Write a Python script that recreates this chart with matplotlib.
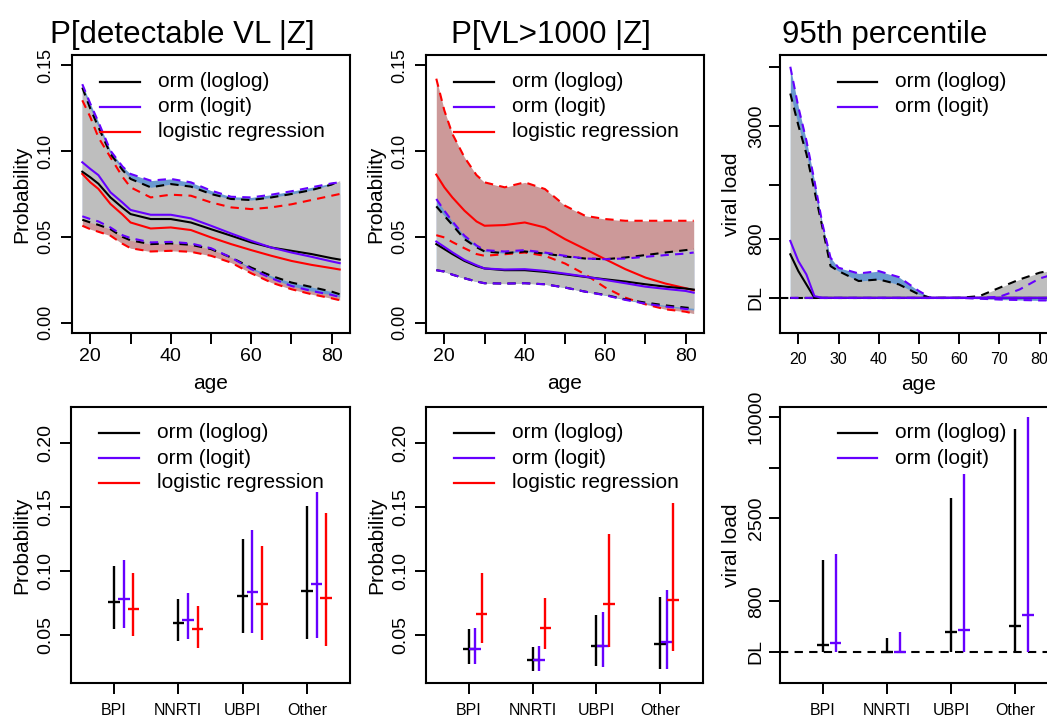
import matplotlib
matplotlib.use("Agg")
import matplotlib.pyplot as plt
from matplotlib import font_manager
from matplotlib.ticker import NullLocator

plt.rcParams['font.family'] = ['Liberation Sans', 'DejaVu Sans']
names = {f.name for f in font_manager.fontManager.ttflist}
NARROW = ['Liberation Sans Narrow', 'Liberation Sans'] if 'Liberation Sans Narrow' in names else ['Liberation Sans']

BLACK = 'black'
PURPLE = '#6600FF'
RED = '#FF0000'
GRAY = '#BEBEBE'
BAND_BLUE = '#6A9AD0'
BAND_RED = '#CC9999'

# ---------------- data ----------------
age = [18, 20, 22, 25, 28, 30, 35, 40, 45, 50, 55, 60, 65, 70, 75, 80, 82]

# P[detectable VL | Z]
det_ll = [.088, .0847, .081, .073, .067, .0633, .0604, .0604, .0584, .0545, .0507, .0468, .0438, .0419, .040, .0376, .0368]
det_ll_hi = [.137, .1247, .114, .0984, .089, .0838, .0789, .0808, .0793, .075, .0721, .0715, .073, .075, .0773, .0805, .0828]
det_ll_lo = [.060, .0584, .057, .0545, .050, .048, .0458, .0462, .0454, .0429, .038, .0321, .0273, .0234, .0208, .0181, .0166]
det_lg = [.0935, .0896, .086, .076, .070, .0657, .0629, .0629, .0608, .0565, .052, .0477, .0438, .0409, .0384, .0357, .0347]
det_lg_hi = [.139, .1276, .117, .1003, .091, .0867, .0828, .0838, .0818, .077, .0734, .073, .0746, .0766, .0789, .0812, .0818]
det_lg_lo = [.062, .0604, .059, .0555, .051, .0493, .0468, .0471, .0462, .0434, .038, .0312, .0259, .0214, .0185, .0162, .015]
det_lr = [.0867, .0818, .078, .0692, .063, .0584, .0549, .0555, .054, .0497, .0458, .0423, .039, .036, .0337, .0318, .031]
det_lr_hi = [.1296, .1198, .108, .0964, .085, .0789, .073, .0746, .074, .0701, .0672, .0662, .0672, .069, .0715, .074, .075]
det_lr_lo = [.0565, .0545, .053, .0507, .046, .0434, .0415, .0419, .0413, .039, .035, .0288, .0234, .0195, .0166, .0142, .0131]

# P[VL > 1000 | Z]
k_ll = [.0458, .0429, .040, .036, .033, .0316, .0306, .0306, .0296, .0282, .0267, .0253, .024, .0224, .021, .0199, .0193]
k_ll_hi = [.0678, .0623, .057, .0487, .044, .0415, .0405, .0415, .0403, .0386, .0374, .037, .038, .0394, .0409, .0423, .0429]
k_ll_lo = [.0306, .0298, .028, .0259, .024, .023, .0228, .023, .0224, .0205, .0181, .0162, .0136, .0117, .0101, .0088, .0084]
k_lg = [.0473, .0442, .041, .0366, .0335, .0316, .031, .0312, .0302, .0286, .0269, .0249, .023, .021, .0197, .0185, .0175]
k_lg_hi = [.0721, .0653, .059, .0507, .045, .0423, .0415, .0423, .0409, .039, .0374, .037, .0374, .0384, .0394, .0403, .0409]
k_lg_lo = [.0306, .0298, .028, .0259, .024, .023, .0228, .023, .0224, .0205, .0181, .016, .0133, .0111, .0094, .008, .0074]
k_lr = [.0863, .0789, .073, .0653, .059, .0565, .0569, .0584, .0555, .0487, .0429, .037, .0312, .0263, .0228, .0201, .0189]
k_lr_hi = [.1422, .1237, .110, .0964, .086, .0818, .0789, .0818, .0779, .0682, .0623, .0604, .0594, .0594, .0594, .0594, .0594]
k_lr_lo = [.051, .0497, .047, .0434, .040, .039, .0399, .0409, .039, .0345, .0282, .0205, .0146, .0107, .0078, .0064, .0053]

# 95th percentile of viral load
DL = 400
age_q = [18, 20, 22, 24, 26, 28, 30, 35, 40, 45, 50, 53, 55, 60, 65, 70, 75, 80, 82]
q_ll = [666, 547, 468, 400, 400, 400, 400, 400, 400, 400, 400, 400, 400, 400, 400, 400, 400, 400, 400]
q_ll_hi = [4375, 3014, 2161, 1403, 911, 580, 547, 487, 496, 468, 416, 400, 400, 400, 408, 450, 496, 537, 547]
q_ll_lo = [400, 400, 400, 400, 400, 400, 400, 400, 400, 400, 400, 400, 400, 400, 400, 400, 400, 400, 400]
q_lg = [779, 615, 526, 408, 400, 400, 400, 400, 400, 400, 400, 400, 400, 400, 400, 400, 400, 400, 400]
q_lg_hi = [5988, 3740, 2527, 1578, 948, 640, 569, 532, 547, 510, 433, 400, 400, 400, 400, 405, 441, 502, 516]
q_lg_lo = [400, 400, 400, 400, 400, 400, 400, 400, 400, 400, 400, 400, 400, 400, 396, 392, 390, 388, 388]

# by regimen
groups = ['BPI', 'NNRTI', 'UBPI', 'Other']
gpos = [1, 2, 3, 4]
gd_ll = [.0761, .0597, .0808, .0844]
gd_ll_lo = [.0547, .0453, .0518, .0466]
gd_ll_hi = [.1043, .0784, .1251, .151]
gd_lg = [.0784, .0617, .0834, .0897]
gd_lg_lo = [.0557, .0466, .0518, .0474]
gd_lg_hi = [.1087, .0826, .1322, .1617]
gd_lr = [.0703, .0544, .0745, .0792]
gd_lr_lo = [.0495, .040, .0461, .0414]
gd_lr_hi = [.0988, .073, .1199, .1457]

gk_ll = [.0388, .0302, .0417, .043]
gk_ll_lo = [.0273, .0221, .0257, .0231]
gk_ll_hi = [.0544, .0409, .0657, .0795]
gk_lg = [.0388, .0304, .0417, .0448]
gk_lg_lo = [.027, .0221, .0252, .0231]
gk_lg_hi = [.0557, .0417, .0683, .0852]
gk_lr = [.0662, .0557, .074, .0774]
gk_lr_lo = [.0435, .039, .0409, .0375]
gk_lr_hi = [.0983, .0787, .129, .153]

gq_ll = [442, 400, 524, 569]
gq_ll_lo = [400, 400, 400, 400]
gq_ll_hi = [1417, 485, 3283, 8487]
gq_lg = [452, 400, 543, 660]
gq_lg_lo = [400, 400, 400, 400]
gq_lg_hi = [1538, 526, 4581, 10000]

# ---------------- figure ----------------
W, H = 1047, 719
fig = plt.figure(figsize=(W / 100, H / 100), dpi=100)


def make_axes(left, top, w=278, h=278):
    ax = fig.add_axes([left / W, 1 - (top + h) / H, w / W, h / H])
    for s in ax.spines.values():
        s.set_linewidth(1.5)
    ax.tick_params(direction='out', length=8, width=1.4, color='black')
    return ax


def legend(ax, entries, x0, x1, xt, rows):
    for (lab, col), y in zip(entries, rows):
        ax.plot([x0, x1], [y, y], color=col, lw=1.6, transform=ax.transAxes, clip_on=False)
        ax.text(xt, y, lab, transform=ax.transAxes, fontsize=15, va='center', ha='left')


def rot_yticks(ax, pad):
    ax.tick_params(axis='y', labelrotation=90, pad=pad)
    for t in ax.get_yticklabels():
        t.set_va('center')


LEG3 = [('orm (loglog)', BLACK), ('orm (logit)', PURPLE), ('logistic regression', RED)]
LEG2 = LEG3[:2]
ROWS = [0.904, 0.814, 0.724]


def prob_panel(ax, ll, ll_hi, ll_lo, lg, lg_hi, lg_lo, lr, lr_hi, lr_lo):
    ax.fill_between(age, lr_lo, lr_hi, color=BAND_RED, lw=0)
    ax.fill_between(age, lg_lo, lg_hi, color=BAND_BLUE, lw=0)
    ax.fill_between(age, ll_lo, ll_hi, color=GRAY, lw=0)
    for c, m, hi, lo in [(RED, lr, lr_hi, lr_lo), (BLACK, ll, ll_hi, ll_lo), (PURPLE, lg, lg_hi, lg_lo)]:
        ax.plot(age, m, color=c, lw=1.5)
        ax.plot(age, hi, color=c, lw=1.5, ls=(0, (4, 3)))
        ax.plot(age, lo, color=c, lw=1.5, ls=(0, (4, 3)))
    ax.set_xlim(15.44, 84.56)
    ax.set_ylim(-0.006, 0.156)
    ax.set_xticks([20, 30, 40, 50, 60, 70, 80])
    ax.set_xticklabels(['20', '', '40', '', '60', '', '80'], family=NARROW, fontsize=14)
    ax.set_yticks([0, 0.05, 0.10, 0.15])
    ax.set_yticklabels(['0.00', '0.05', '0.10', '0.15'], family=NARROW, fontsize=13)
    rot_yticks(ax, 5)
    ax.tick_params(axis='x', pad=3)
    ax.set_xlabel('age', family=NARROW, fontsize=15, va='center')
    ax.xaxis.set_label_coords(0.5, -0.18)
    ax.set_ylabel('Probability', fontsize=15, va='center')
    ax.yaxis.set_label_coords(-0.18, 0.5)
    legend(ax, LEG3, 0.10, 0.245, 0.31, ROWS)


ax1 = make_axes(72, 55)
prob_panel(ax1, det_ll, det_ll_hi, det_ll_lo, det_lg, det_lg_hi, det_lg_lo, det_lr, det_lr_hi, det_lr_lo)
ax2 = make_axes(426, 55)
prob_panel(ax2, k_ll, k_ll_hi, k_ll_lo, k_lg, k_lg_hi, k_lg_lo, k_lr, k_lr_hi, k_lr_lo)

# 95th percentile by age
ax3 = make_axes(780, 55)
ax3.set_yscale('log')
ax3.fill_between(age_q, q_lg_lo, q_lg_hi, color=BAND_BLUE, lw=0)
ax3.fill_between(age_q, q_ll_lo, q_ll_hi, color=GRAY, lw=0)
ax3.axhline(DL, color=BLACK, lw=1.5, ls=(0, (4, 3)))
for c, m, hi, lo in [(BLACK, q_ll, q_ll_hi, q_ll_lo), (PURPLE, q_lg, q_lg_hi, q_lg_lo)]:
    ax3.plot(age_q, m, color=c, lw=1.5)
    ax3.plot(age_q, hi, color=c, lw=1.5, ls=(0, (4, 3)))
    ax3.plot(age_q, lo, color=c, lw=1.5, ls=(0, (4, 3)))
ax3.set_xlim(15.44, 84.56)
ax3.set_ylim(265, 6870)
ax3.yaxis.set_minor_locator(NullLocator())
ax3.set_yticks([400, 800, 1500, 3000, 6000])
ax3.set_yticklabels(['DL', '800', '', '3000', ''], fontsize=14)
rot_yticks(ax3, 3)
ax3.set_xticks([20, 30, 40, 50, 60, 70, 80])
ax3.set_xticklabels(['20', '30', '40', '50', '60', '70', '80'], fontsize=11.5)
ax3.tick_params(axis='x', pad=6)
ax3.set_xlabel('age', fontsize=15, va='center')
ax3.xaxis.set_label_coords(0.5, -0.185)
ax3.set_ylabel('viral load', fontsize=15, va='center')
ax3.yaxis.set_label_coords(-0.173, 0.5)
legend(ax3, LEG2, 0.209, 0.349, 0.414, ROWS)


def group_bars(ax, series, offsets):
    for (m, lo, hi, c), off in zip(series, offsets):
        xs = [p + off for p in gpos]
        ax.vlines(xs, lo, hi, color=c, lw=1.7)
        ax.hlines(m, [x - 0.09 for x in xs], [x + 0.09 for x in xs], color=c, lw=1.7)
    ax.set_xlim(0.33, 4.67)
    ax.set_xticks(gpos)
    ax.set_xticklabels(groups, fontsize=11.5)
    ax.tick_params(axis='x', pad=6.5)


def prob_group(ax, series, offsets):
    group_bars(ax, series, offsets)
    ax.set_ylim(0.0124, 0.2284)
    ax.set_yticks([0.05, 0.10, 0.15, 0.20])
    ax.set_yticklabels(['0.05', '0.10', '0.15', '0.20'], fontsize=14)
    rot_yticks(ax, 4)
    ax.set_ylabel('Probability', fontsize=15, va='center')
    ax.yaxis.set_label_coords(-0.177, 0.5)
    legend(ax, LEG3, 0.10, 0.245, 0.31, [0.906, 0.815, 0.725])


ax4 = make_axes(71, 407, 279, 276)
prob_group(ax4, [(gd_ll, gd_ll_lo, gd_ll_hi, BLACK), (gd_lg, gd_lg_lo, gd_lg_hi, PURPLE),
                 (gd_lr, gd_lr_lo, gd_lr_hi, RED)], [0, 0.15, 0.30])
ax5 = make_axes(426, 407, 277, 276)
prob_group(ax5, [(gk_ll, gk_ll_lo, gk_ll_hi, BLACK), (gk_lg, gk_lg_lo, gk_lg_hi, PURPLE),
                 (gk_lr, gk_lr_lo, gk_lr_hi, RED)], [0, 0.10, 0.20])

ax6 = make_axes(780, 407, 278, 276)
ax6.set_yscale('log')
ax6.axhline(DL, color=BLACK, lw=1.5, ls=(0, (4, 3)))
group_bars(ax6, [(gq_ll, gq_ll_lo, gq_ll_hi, BLACK), (gq_lg, gq_lg_lo, gq_lg_hi, PURPLE)], [0, 0.20])
ax6.set_ylim(261.5, 11480)
ax6.yaxis.set_minor_locator(NullLocator())
ax6.set_yticks([400, 800, 2500, 5000, 10000])
ax6.set_yticklabels(['DL', '800', '2500', '', '10000'], fontsize=14)
rot_yticks(ax6, 3)
ax6.set_ylabel('viral load', fontsize=15, va='center')
ax6.yaxis.set_label_coords(-0.174, 0.5)
legend(ax6, LEG2, 0.209, 0.349, 0.414, [0.906, 0.815])

# panel titles
fig.text(182 / W, 1 - 43 / H, 'P[detectable VL |Z]', fontsize=22.5, ha='center', va='baseline')
fig.text(551 / W, 1 - 43 / H, 'P[VL>1000 |Z]', fontsize=22.5, ha='center', va='baseline')
fig.text(885 / W, 1 - 43 / H, '95th percentile', fontsize=22.5, ha='center', va='baseline')

fig.savefig('out.png', dpi=100)
